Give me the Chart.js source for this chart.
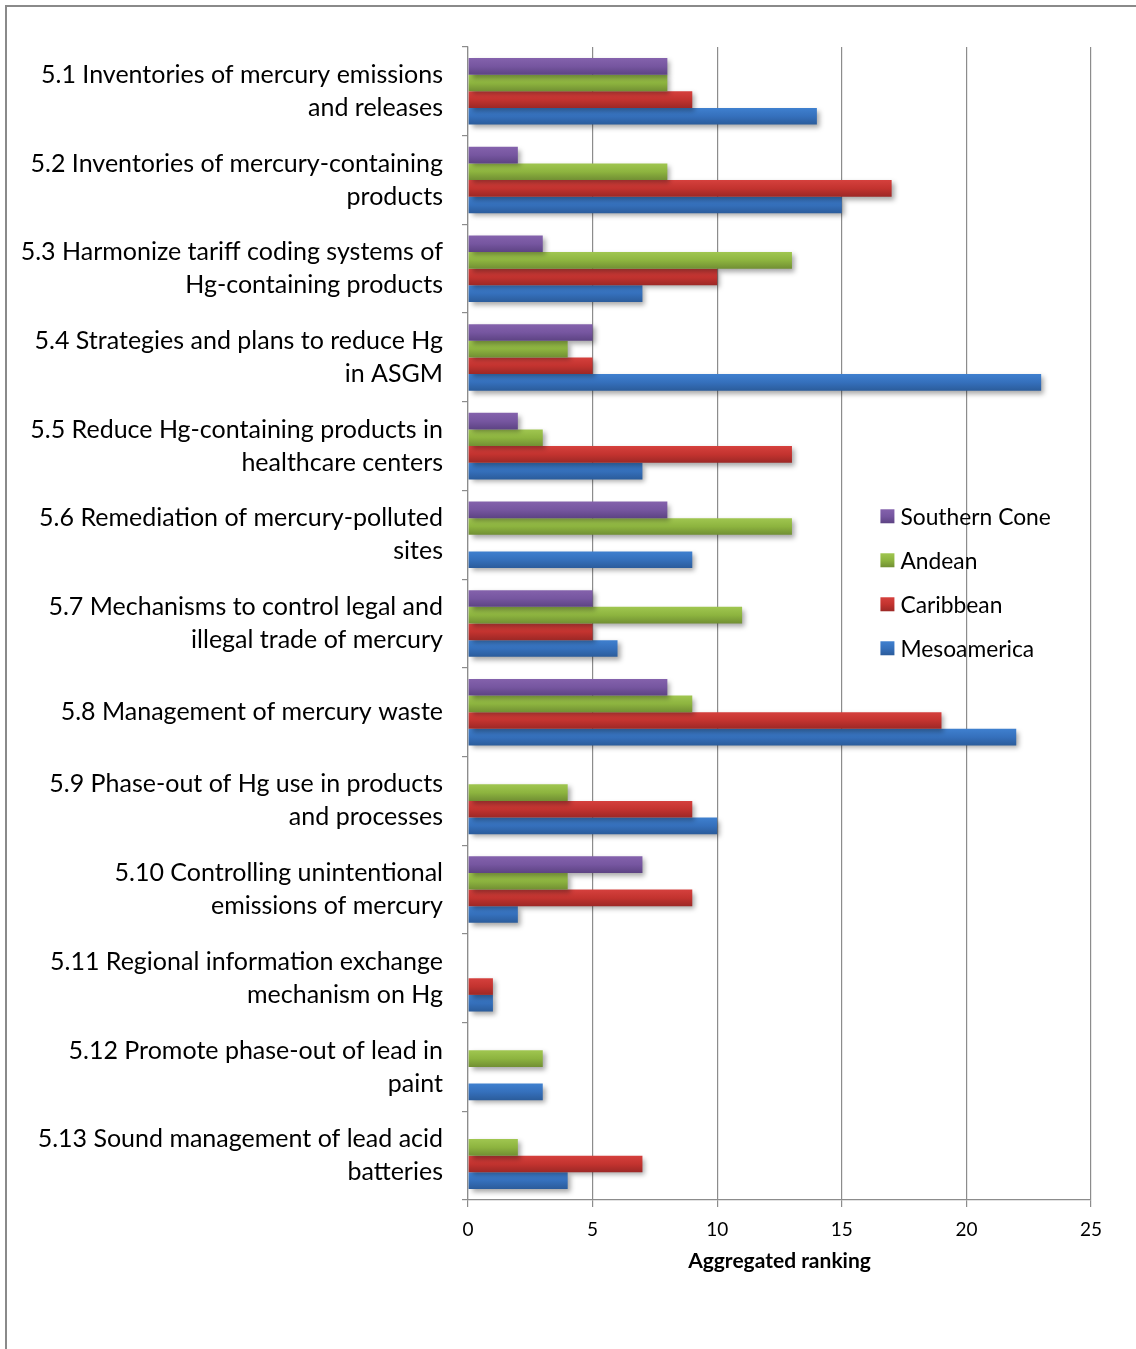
<!DOCTYPE html>
<html>
<head>
<meta charset="utf-8">
<script src="https://cdn.jsdelivr.net/npm/chart.js@4/dist/chart.umd.min.js"></script>
<style>
html,body{margin:0;padding:0;background:#fff;}
#wrap{position:relative;width:1136px;height:1349px;}
</style>
</head>
<body>
<div id="wrap"><canvas id="c" width="1136" height="1349"></canvas></div>
<script>
const categories = [
  ["5.1 Inventories of mercury emissions", "and releases"],
  ["5.2 Inventories of mercury-containing", "products"],
  ["5.3 Harmonize tariff coding systems of", "Hg-containing products"],
  ["5.4 Strategies and plans to reduce Hg", "in ASGM"],
  ["5.5 Reduce Hg-containing products in", "healthcare centers"],
  ["5.6 Remediation of mercury-polluted", "sites"],
  ["5.7 Mechanisms to control legal and", "illegal trade of mercury"],
  "5.8 Management of mercury waste",
  ["5.9 Phase-out of Hg use in products", "and processes"],
  ["5.10 Controlling unintentional", "emissions of mercury"],
  ["5.11 Regional information exchange", "mechanism on Hg"],
  ["5.12 Promote phase-out of lead in", "paint"],
  ["5.13 Sound management of lead acid", "batteries"]
];
const seriesNames = ["Southern Cone", "Andean", "Caribbean", "Mesoamerica"];
const southernCone = [8, 2, 3, 5, 2, 8, 5, 8, 0, 7, 0, 0, 0];
const andean       = [8, 8, 13, 4, 3, 13, 11, 9, 4, 4, 0, 3, 2];
const caribbean    = [9, 17, 10, 5, 13, 0, 5, 19, 9, 9, 1, 0, 7];
const mesoamerica  = [14, 15, 7, 23, 7, 9, 6, 22, 10, 2, 1, 3, 4];
const xTicks = [0, 5, 10, 15, 20, 25];
const axisTitle = "Aggregated ranking";

const palette = [
  ["#8462AC", "#7656A0", "#5D4383"],
  ["#A0C650", "#8DB43F", "#718F33"],
  ["#D5403D", "#C3332F", "#9C2826"],
  ["#3F80CF", "#3570BC", "#2B5C9B"]
];
const CAT_PCT = 0.75;

function barGradient(ctx) {
  const chart = ctx.chart;
  const cols = palette[ctx.datasetIndex];
  const ys = chart.scales && chart.scales.y;
  if (!ys || ctx.type !== 'data' || !chart.chartArea) return cols[1];
  const n = chart.data.labels.length;
  const nd = chart.data.datasets.length;
  const cw = (ys.bottom - ys.top) / n;
  const bh = cw * CAT_PCT / nd;
  const center = ys.getPixelForValue(ctx.dataIndex);
  const top = center - cw * CAT_PCT / 2 + ctx.datasetIndex * bh;
  const g = chart.ctx.createLinearGradient(0, top, 0, top + bh);
  g.addColorStop(0, cols[0]);
  g.addColorStop(0.5, cols[1]);
  g.addColorStop(1, cols[2]);
  return g;
}

const seriesData = [southernCone, andean, caribbean, mesoamerica];
const datasets = seriesNames.map((name, i) => ({
  label: name,
  data: seriesData[i],
  backgroundColor: barGradient,
  borderWidth: 0,
  categoryPercentage: CAT_PCT,
  barPercentage: 1.0
}));

const FONT = "Lato, 'Open Sans', sans-serif";

const framePlugin = {
  id: 'frame',
  beforeDraw(chart) {
    const c = chart.ctx;
    c.save();
    c.fillStyle = '#fff';
    c.fillRect(0, 0, chart.width, chart.height);
    c.strokeStyle = '#8a8a8a';
    c.lineWidth = 2;
    c.beginPath();
    c.moveTo(6, chart.height);
    c.lineTo(6, 6);
    c.lineTo(chart.width, 6);
    c.stroke();
    c.restore();
  }
};

const shadowPlugin = {
  id: 'shadow',
  beforeDatasetDraw(chart) {
    const c = chart.ctx;
    c.save();
    c.shadowColor = 'rgba(0,0,0,0.35)';
    c.shadowBlur = 5;
    c.shadowOffsetX = 3;
    c.shadowOffsetY = 3;
  },
  afterDatasetDraw(chart) {
    chart.ctx.restore();
  }
};

const legendPlugin = {
  id: 'customLegend',
  afterDraw(chart) {
    const c = chart.ctx;
    const xs = chart.scales.x;
    const ys = chart.scales.y;
    const x0 = xs.getPixelForValue(16.55);
    const y0 = ys.top + (ys.bottom - ys.top) * 0.407;
    const gap = 44;
    c.save();
    c.font = "22.8px " + FONT;
    c.textBaseline = 'middle';
    c.textAlign = 'left';
    chart.data.datasets.forEach((ds, i) => {
      const y = y0 + i * gap;
      const cols = palette[i];
      const g = c.createLinearGradient(0, y - 7, 0, y + 7);
      g.addColorStop(0, cols[0]); g.addColorStop(0.5, cols[1]); g.addColorStop(1, cols[2]);
      c.fillStyle = g;
      c.fillRect(x0, y - 7, 14, 14);
      c.fillStyle = '#000';
      c.fillText(ds.label, x0 + 20, y + 1);
    });
    c.restore();
  }
};

new Chart(document.getElementById('c'), {
  type: 'bar',
  data: { labels: categories, datasets: datasets },
  options: {
    indexAxis: 'y',
    responsive: false,
    animation: false,
    devicePixelRatio: 1,
    layout: { padding: { left: 7, top: 47, right: 45, bottom: 75 } },
    plugins: {
      legend: { display: false },
      tooltip: { enabled: false }
    },
    scales: {
      x: {
        min: xTicks[0],
        max: xTicks[xTicks.length - 1],
        afterBuildTicks(scale) { scale.ticks = xTicks.map(v => ({ value: v })); },
        grid: { color: '#8c8c8c', lineWidth: 1.2, tickLength: 7, drawOnChartArea: true },
        border: { color: '#8c8c8c', width: 1.2 },
        ticks: { font: { family: FONT, size: 19 }, color: '#000', padding: 11, maxRotation: 0 },
        title: { display: true, text: axisTitle, font: { family: FONT, size: 21, weight: 'bold' }, color: '#000', padding: { top: -3, bottom: 0 } }
      },
      y: {
        grid: { display: true, drawOnChartArea: false, drawTicks: true, tickLength: 6, color: '#8c8c8c', lineWidth: 1.2, offset: true },
        border: { color: '#8c8c8c', width: 1.2 },
        ticks: { font: { family: FONT, size: 25, lineHeight: 1.32 }, color: '#000', padding: 19, autoSkip: false },
        afterFit(scale) { scale.width = 461; scale.paddingTop = 0; scale.paddingBottom = 0; }
      }
    }
  },
  plugins: [framePlugin, shadowPlugin, legendPlugin]
});
</script>
</body>
</html>
